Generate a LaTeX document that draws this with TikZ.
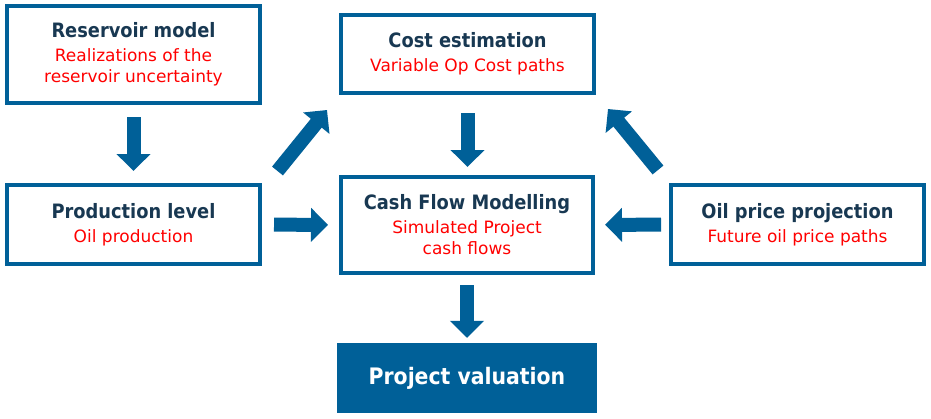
\documentclass[tikz,border=0pt]{standalone}
\usepackage{fontspec}
\setmainfont{DejaVu Sans Condensed}
\newfontfamily\redfont{DejaVu Sans}
\usetikzlibrary{arrows.meta,calc}
\definecolor{boxblue}{RGB}{0,96,152}
\definecolor{titlenavy}{RGB}{24,56,82}
\definecolor{subred}{RGB}{255,0,0}
\tikzset{
  box/.style={draw=boxblue, line width=4pt, fill=white, rectangle, inner sep=0pt, align=center,
    font=\fontsize{17}{21}\selectfont},
  bigarrow/.style={draw=boxblue, line width=14pt, -{Triangle[length=17pt,width=33pt]}},
}
\newcommand{\sub}[1]{{\redfont\fontsize{17}{21}\selectfont\color{subred}#1}}
\newcommand{\tl}[1]{{\fontsize{19.8}{21}\selectfont\bfseries\color{titlenavy}#1}}
\begin{document}
\begin{tikzpicture}[x=1pt,y=-1pt]
\useasboundingbox[fill=white] (0,0) rectangle (931,418);
\node[box, minimum width=253pt, minimum height=97pt] (res) at (133.5,54.5)
  {\tl{Reservoir model}\\[3pt]\sub{Realizations of the}\\\sub{reservoir uncertainty}};
\node[box, minimum width=253pt, minimum height=78pt] (cost) at (467.5,54)
  {\tl{Cost estimation}\\[3pt]\sub{Variable Op Cost paths}};
\node[box, minimum width=253pt, minimum height=79pt] (prod) at (133.5,224.5)
  {\tl{Production level}\\[3pt]\sub{Oil production}};
\node[box, minimum width=252pt, minimum height=96pt] (cash) at (467,225)
  {\tl{Cash Flow Modelling}\\[3pt]\sub{Simulated Project}\\\sub{cash flows}};
\node[box, minimum width=253pt, minimum height=79pt] (oil) at (797.5,224.5)
  {\tl{Oil price projection}\\[3pt]\sub{Future oil price paths}};
\node[rectangle, fill=boxblue, minimum width=260pt, minimum height=70pt, inner sep=0pt,
  text=white, font=\fontsize{22.7}{26}\selectfont\bfseries] (val) at (467,378) {Project valuation};
\draw[bigarrow, shorten <=12pt, shorten >=12pt] (res) -- (prod);
\draw[bigarrow, shorten <=18pt, shorten >=8pt] (cost.south) -- (cost.south |- cash.north);
\draw[bigarrow, shorten <=10pt, shorten >=5pt] (cash.south) -- (cash.south |- val.north);
\draw[bigarrow, shorten <=12pt, shorten >=11pt] (prod) -- (cash);
\draw[bigarrow, shorten <=8pt, shorten >=10pt] (oil) -- (cash);
\coordinate (d1s) at ($(prod.north east)+(15.5,-12)$);
\coordinate (d1e) at ($(cost.south west)+(-12,15)$);
\draw[bigarrow] (d1s) -- (d1e);
\coordinate (d2s) at ($(oil.north west)+(-11,-13)$);
\coordinate (d2e) at ($(cost.south east)+(12,14)$);
\draw[bigarrow] (d2s) -- (d2e);
\end{tikzpicture}
\end{document}
